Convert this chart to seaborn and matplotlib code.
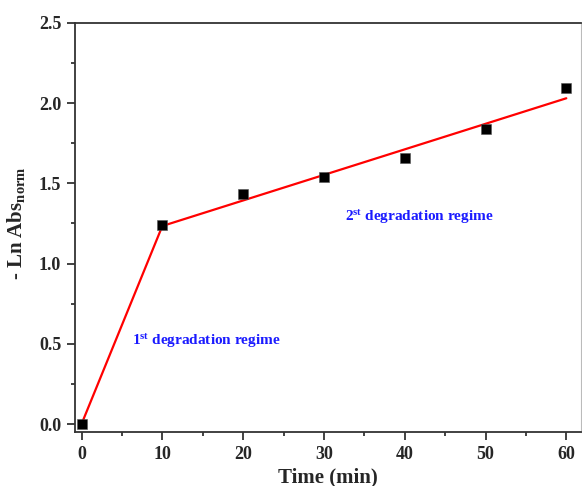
import matplotlib
matplotlib.use("Agg")
import matplotlib.pyplot as plt
import seaborn as sns
import pandas as pd
from matplotlib.ticker import MultipleLocator

time_min = [0, 10, 20, 30, 40, 50, 60]
neg_ln_abs = [0.0, 1.24, 1.433, 1.539, 1.657, 1.836, 2.093]
fit_x = [0, 10, 60]
fit_y = [0.0, 1.234, 2.03]

sns.set_style("white")
plt.rcParams['font.family'] = ['Liberation Serif', 'DejaVu Serif']
plt.rcParams['font.weight'] = 'bold'
plt.rcParams['mathtext.fontset'] = 'custom'
plt.rcParams['mathtext.rm'] = 'Liberation Serif:bold'
plt.rcParams['mathtext.bf'] = 'Liberation Serif:bold'
plt.rcParams['mathtext.it'] = 'Liberation Serif:bold'

fig = plt.figure(figsize=(5.82, 4.86), dpi=100)
ax = fig.add_axes([0.129, 0.111, 0.869, 0.842])

df_pts = pd.DataFrame({"t": time_min, "y": neg_ln_abs})
df_fit = pd.DataFrame({"t": fit_x, "y": fit_y})
sns.lineplot(data=df_fit, x="t", y="y", ax=ax, color="#ff0000", linewidth=1.6, zorder=2)
sns.scatterplot(data=df_pts, x="t", y="y", ax=ax, marker="s", s=58, color="black",
                edgecolor="#555555", linewidth=0.4, zorder=3)

ax.set_xlim(-0.8, 61.8)
ax.set_ylim(-0.05, 2.5)
ax.xaxis.set_major_locator(MultipleLocator(10))
ax.xaxis.set_minor_locator(MultipleLocator(5))
ax.yaxis.set_major_locator(MultipleLocator(0.5))
ax.yaxis.set_minor_locator(MultipleLocator(0.25))
ax.yaxis.set_major_formatter(matplotlib.ticker.FormatStrFormatter('%.1f'))

for s in ax.spines.values():
    s.set_color("#333333")
    s.set_linewidth(1.3)
ax.spines['right'].set_color("#bbbbbb")
ax.spines['right'].set_linewidth(0.8)

ax.tick_params(which='major', direction='out', length=6, width=1.3, color="#333333",
               labelsize=13, pad=4, bottom=True, left=True, top=False, right=False)
ax.tick_params(which='minor', direction='out', length=3, width=1.3, color="#333333",
               bottom=True, left=True, top=False, right=False)
for lab in ax.get_xticklabels() + ax.get_yticklabels():
    lab.set_fontweight('bold')

ax.set_xlabel("Time (min)", fontsize=15, fontweight='bold', labelpad=3)
ax.set_ylabel(r"- Ln Abs$_{\mathbf{norm}}$", fontsize=15, fontweight='bold', labelpad=6)
ax.yaxis.set_label_coords(-0.095, 0.51)

ax.text(6.3, 0.52, r"1$^{\mathbf{st}}$ degradation regime", color="#1a1aff",
        fontsize=11, fontweight='bold', ha='left', va='center')
ax.text(32.6, 1.29, r"2$^{\mathbf{st}}$ degradation regime", color="#1a1aff",
        fontsize=11, fontweight='bold', ha='left', va='center')

fig.savefig("out.png", dpi=100)
